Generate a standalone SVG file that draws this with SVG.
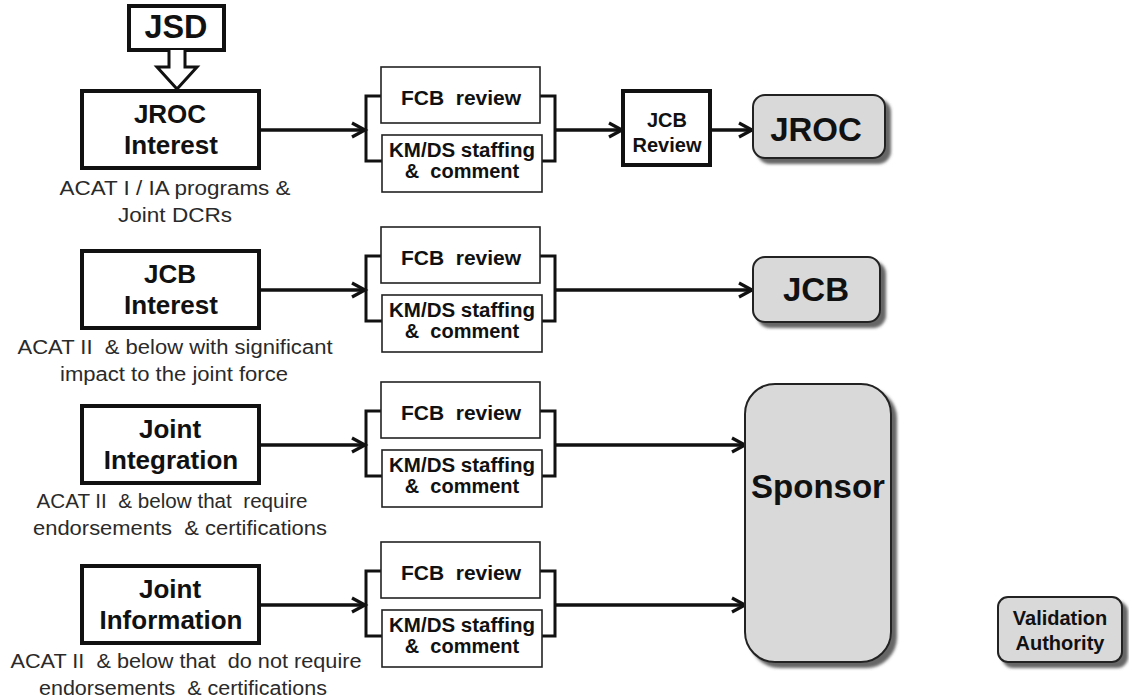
<svg xmlns="http://www.w3.org/2000/svg" width="1129" height="698" viewBox="0 0 1129 698">
<defs>
<style>
text{font-family:"Liberation Sans",Arial,sans-serif;fill:#111;text-anchor:middle;white-space:pre}
.t{font-weight:bold;font-size:26px}
.cap{font-size:20px;fill:#2a2a2a}
.s{font-weight:bold;font-size:20px}
.f{font-weight:bold;font-size:21px}
.thick{fill:#fff;stroke:#111;stroke-width:4}
.thin{fill:#fff;stroke:#222;stroke-width:1.6}
.gray{fill:#d9d9d9;stroke:#222;stroke-width:2;filter:url(#sh)}
.br{fill:none;stroke:#111;stroke-width:3}
.ln{fill:none;stroke:#111;stroke-width:3.5;marker-end:url(#ah)}
.g{font-weight:bold;font-size:33px}
</style>
<marker id="ah" markerUnits="userSpaceOnUse" markerWidth="20" markerHeight="20" refX="16" refY="9" orient="auto">
<path d="M3,2 L16,9 L3,16" fill="none" stroke="#111" stroke-width="3.2"/>
</marker>
<filter id="sh" x="-20%" y="-20%" width="150%" height="150%">
<feDropShadow dx="5" dy="5" stdDeviation="1.5" flood-color="#555" flood-opacity="0.9"/>
</filter>
</defs>
<rect width="1129" height="698" fill="#fff"/>

<g id="connectors">
<line class="ln" x1="261" y1="130" x2="365" y2="130"/>
<line class="ln" x1="556" y1="130" x2="622" y2="130"/>
<line class="ln" x1="712" y1="130" x2="752" y2="130"/>
<line class="ln" x1="261" y1="290" x2="365" y2="290"/>
<line class="ln" x1="556" y1="290" x2="752" y2="290"/>
<line class="ln" x1="261" y1="445" x2="365" y2="445"/>
<line class="ln" x1="556" y1="445" x2="745" y2="445"/>
<line class="ln" x1="261" y1="605" x2="365" y2="605"/>
<line class="ln" x1="556" y1="605" x2="745" y2="605"/>
<path class="br" d="M381,96 H366 V161 H382 M540,96 H555 V161 H542"/>
<path class="br" d="M381,256 H366 V321 H382 M540,256 H555 V321 H542"/>
<path class="br" d="M381,411 H366 V476 H382 M540,411 H555 V476 H542"/>
<path class="br" d="M381,571 H366 V636 H382 M540,571 H555 V636 H542"/>
</g>

<g id="jsd">
<rect class="thick" x="129" y="6" width="95" height="44" stroke-width="3.5"/>
<text class="g" x="176" y="38" font-size="30" textLength="63" lengthAdjust="spacingAndGlyphs">JSD</text>
<path d="M169,50 V67 H157 L177,89 L197,67 H185 V50" fill="#fff" stroke="#111" stroke-width="3"/>
</g>

<g id="jroc-interest">
<rect class="thick" x="82" y="91" width="177" height="77"/>
<text class="t" x="170" y="123">JROC</text>
<text class="t" x="171" y="154">Interest</text>
<text class="cap" x="175" y="195" textLength="231" lengthAdjust="spacingAndGlyphs">ACAT I / IA programs &amp;</text>
<text class="cap" x="175" y="222" textLength="114" lengthAdjust="spacingAndGlyphs">Joint DCRs</text>
</g>

<g id="jcb-interest">
<rect class="thick" x="82" y="251" width="177" height="77"/>
<text class="t" x="170" y="283">JCB</text>
<text class="t" x="171" y="314">Interest</text>
<text class="cap" xml:space="preserve" x="175" y="354" textLength="315" lengthAdjust="spacingAndGlyphs">ACAT II  &amp; below with significant</text>
<text class="cap" x="174" y="381" textLength="228" lengthAdjust="spacingAndGlyphs">impact to the joint force</text>
</g>

<g id="joint-integration">
<rect class="thick" x="82" y="406" width="177" height="77"/>
<text class="t" x="170" y="438">Joint</text>
<text class="t" x="171" y="469">Integration</text>
<text class="cap" xml:space="preserve" x="172" y="508" textLength="271" lengthAdjust="spacingAndGlyphs">ACAT II  &amp; below that  require</text>
<text class="cap" xml:space="preserve" x="180" y="535" textLength="294" lengthAdjust="spacingAndGlyphs">endorsements  &amp; certifications</text>
</g>

<g id="joint-information">
<rect class="thick" x="82" y="566" width="177" height="77"/>
<text class="t" x="170" y="598">Joint</text>
<text class="t" x="171" y="629">Information</text>
<text class="cap" xml:space="preserve" x="186" y="668" textLength="351" lengthAdjust="spacingAndGlyphs">ACAT II  &amp; below that  do not require</text>
<text class="cap" xml:space="preserve" x="183" y="695" textLength="288" lengthAdjust="spacingAndGlyphs">endorsements  &amp; certifications</text>
</g>

<g id="fcb-1"><rect class="thin" x="381" y="67" width="159" height="56"/><text class="f" xml:space="preserve" x="461" y="105">FCB  review</text></g>
<g id="kmds-1"><rect class="thin" x="382" y="135" width="160" height="57"/><text class="s" x="462" y="157" textLength="146" lengthAdjust="spacingAndGlyphs">KM/DS staffing</text><text class="s" xml:space="preserve" x="462" y="178">&amp;  comment</text></g>
<g id="fcb-2"><rect class="thin" x="381" y="227" width="159" height="56"/><text class="f" xml:space="preserve" x="461" y="265">FCB  review</text></g>
<g id="kmds-2"><rect class="thin" x="382" y="295" width="160" height="57"/><text class="s" x="462" y="317" textLength="146" lengthAdjust="spacingAndGlyphs">KM/DS staffing</text><text class="s" xml:space="preserve" x="462" y="338">&amp;  comment</text></g>
<g id="fcb-3"><rect class="thin" x="381" y="382" width="159" height="56"/><text class="f" xml:space="preserve" x="461" y="420">FCB  review</text></g>
<g id="kmds-3"><rect class="thin" x="382" y="450" width="160" height="57"/><text class="s" x="462" y="472" textLength="146" lengthAdjust="spacingAndGlyphs">KM/DS staffing</text><text class="s" xml:space="preserve" x="462" y="493">&amp;  comment</text></g>
<g id="fcb-4"><rect class="thin" x="381" y="542" width="159" height="56"/><text class="f" xml:space="preserve" x="461" y="580">FCB  review</text></g>
<g id="kmds-4"><rect class="thin" x="382" y="610" width="160" height="57"/><text class="s" x="462" y="632" textLength="146" lengthAdjust="spacingAndGlyphs">KM/DS staffing</text><text class="s" xml:space="preserve" x="462" y="653">&amp;  comment</text></g>

<g id="jcb-review">
<rect class="thick" x="623" y="91" width="87" height="74" stroke-width="3.5"/>
<text class="s" x="667" y="127">JCB</text>
<text class="s" x="667" y="152">Review</text>
</g>

<g id="jroc">
<rect class="gray" x="753" y="95" width="132" height="63" rx="12"/>
<text class="g" x="816" y="141">JROC</text>
</g>

<g id="jcb">
<rect class="gray" x="753" y="257" width="127" height="65" rx="12"/>
<text class="g" x="816" y="301">JCB</text>
</g>

<g id="sponsor">
<rect class="gray" x="745" y="384" width="146" height="278" rx="30"/>
<text class="g" x="818" y="498" font-size="34">Sponsor</text>
</g>

<g id="validation-authority">
<rect class="gray" x="998" y="597" width="124" height="65" rx="10"/>
<text class="s" x="1060" y="625" font-size="21">Validation</text>
<text class="s" x="1060" y="650" font-size="21">Authority</text>
</g>
</svg>
